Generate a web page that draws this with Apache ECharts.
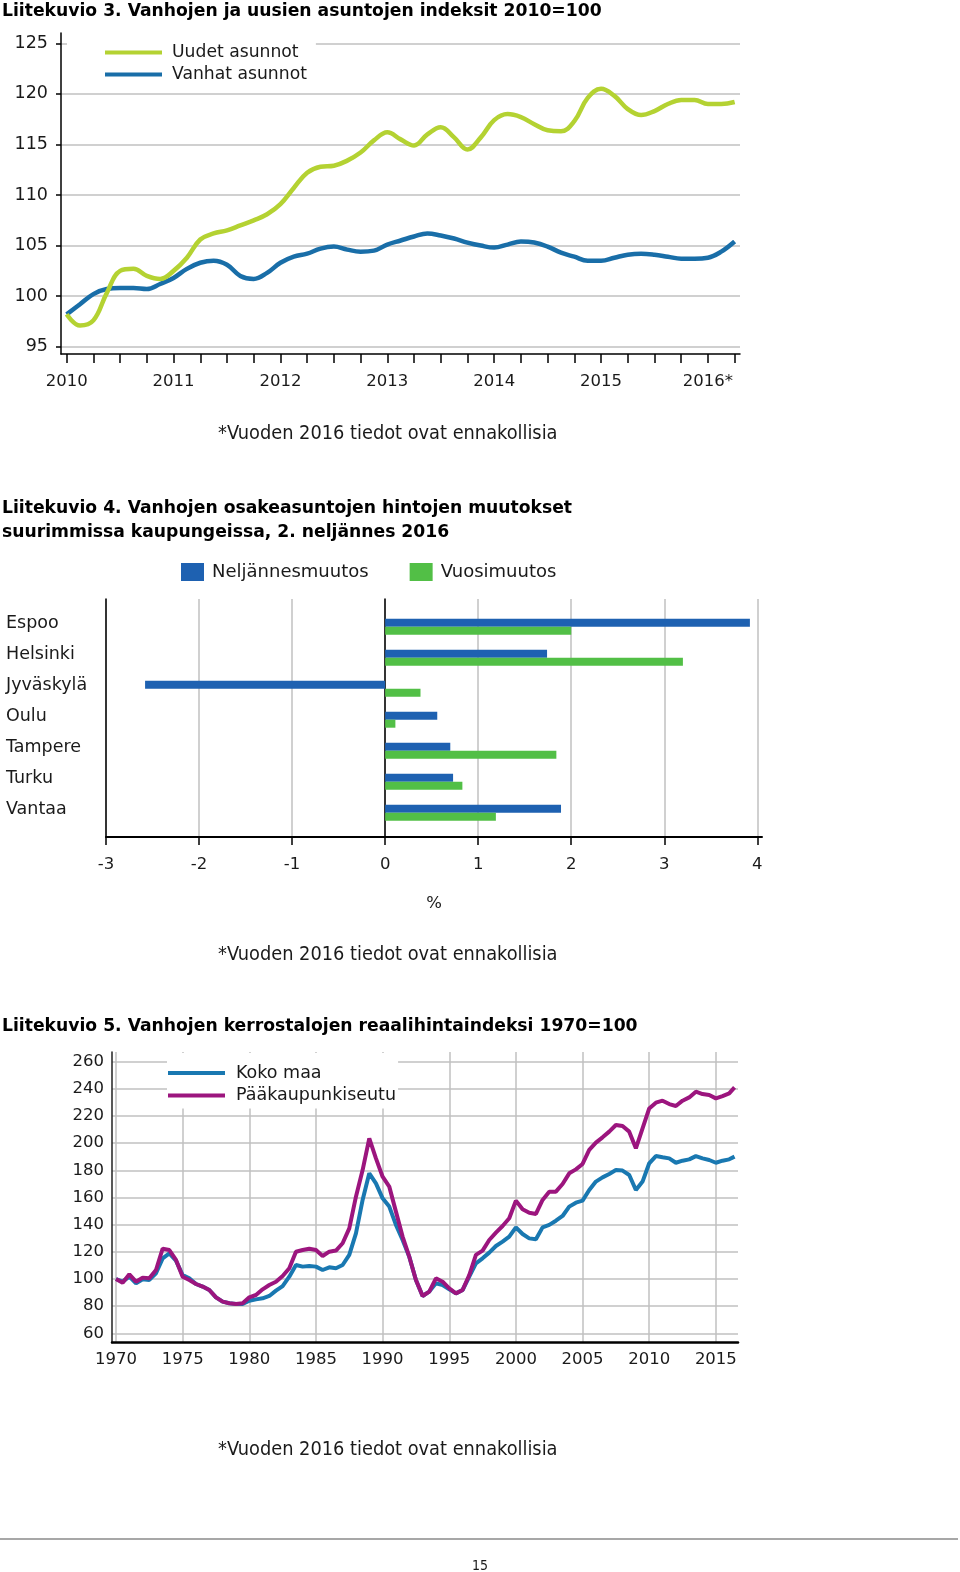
<!DOCTYPE html>
<html><head><meta charset="utf-8">
<script src="https://cdn.jsdelivr.net/npm/echarts@6.0.0/dist/echarts.min.js"></script>
<style>html,body{margin:0;padding:0;background:#fff}#c{width:960px;height:1572px}</style>
</head><body><div id="c"></div>
<script>
// ---------- Liitekuvio 3 ----------
const c1Time = [2010, 2010.125, 2010.25, 2010.375, 2010.5, 2010.625, 2010.75, 2010.875,
  2011, 2011.125, 2011.25, 2011.375, 2011.5, 2011.625, 2011.75, 2011.875,
  2012, 2012.125, 2012.25, 2012.375, 2012.5, 2012.625, 2012.75, 2012.875,
  2013, 2013.125, 2013.25, 2013.375, 2013.5, 2013.625, 2013.75, 2013.875,
  2014, 2014.125, 2014.25, 2014.375, 2014.5, 2014.625, 2014.75, 2014.875,
  2015, 2015.125, 2015.25, 2015.375, 2015.5, 2015.625, 2015.75, 2015.875,
  2016, 2016.125, 2016.25];
const c1Uudet = [98.2, 97.1, 97.6, 100.3, 102.5, 102.7, 102.0, 101.7,
  102.5, 103.8, 105.6, 106.2, 106.5, 107.0, 107.5, 108.1,
  109.1, 110.7, 112.2, 112.8, 112.9, 113.4, 114.2, 115.4,
  116.2, 115.5, 114.9, 116.0, 116.7, 115.7, 114.5, 115.7,
  117.4, 118.0, 117.7, 117.0, 116.4, 116.3, 117.3, 119.6,
  120.5, 119.8, 118.5, 117.9, 118.3, 119.0, 119.4, 119.4,
  119.0, 119.0, 119.2];
const c1Vanhat = [98.2, 99.2, 100.2, 100.7, 100.8, 100.8, 100.7, 101.2,
  101.8, 102.7, 103.3, 103.5, 103.1, 102.0, 101.7, 102.3,
  103.3, 103.9, 104.2, 104.7, 104.9, 104.6, 104.4, 104.5,
  105.1, 105.5, 105.9, 106.2, 106.0, 105.7, 105.3, 105.0,
  104.8, 105.1, 105.4, 105.3, 104.9, 104.3, 103.9, 103.5,
  103.5, 103.8, 104.1, 104.2, 104.1, 103.9, 103.7, 103.7,
  103.8, 104.4, 105.4];
const c1XTicks = [2010, 2010.25, 2010.5, 2010.75, 2011, 2011.25, 2011.5, 2011.75,
  2012, 2012.25, 2012.5, 2012.75, 2013, 2013.25, 2013.5, 2013.75,
  2014, 2014.25, 2014.5, 2014.75, 2015, 2015.25, 2015.5, 2015.75, 2016, 2016.25];
const c1YearLabels = [2010, 2011, 2012, 2013, 2014, 2015, 2016];
const c1YTicks = [95, 100, 105, 110, 115, 120, 125];

// ---------- Liitekuvio 4 ----------
const c2Cities = ['Espoo', 'Helsinki', 'Jyväskylä', 'Oulu', 'Tampere', 'Turku', 'Vantaa'];
const c2Quarter = [3.92, 1.74, -2.58, 0.56, 0.70, 0.73, 1.89];
const c2Annual = [2.00, 3.20, 0.38, 0.11, 1.84, 0.83, 1.19];
const c2XTicks = [-3, -2, -1, 0, 1, 2, 3, 4];

// ---------- Liitekuvio 5 ----------
const c3Years = [1970, 1970.5, 1971, 1971.5, 1972, 1972.5, 1973, 1973.5, 1974, 1974.5,
  1975, 1975.5, 1976, 1976.5, 1977, 1977.5, 1978, 1978.5, 1979, 1979.5,
  1980, 1980.5, 1981, 1981.5, 1982, 1982.5, 1983, 1983.5, 1984, 1984.5,
  1985, 1985.5, 1986, 1986.5, 1987, 1987.5, 1988, 1988.5, 1989, 1989.5,
  1990, 1990.5, 1991, 1991.5, 1992, 1992.5, 1993, 1993.5, 1994, 1994.5,
  1995, 1995.5, 1996, 1996.5, 1997, 1997.5, 1998, 1998.5, 1999, 1999.5,
  2000, 2000.5, 2001, 2001.5, 2002, 2002.5, 2003, 2003.5, 2004, 2004.5,
  2005, 2005.5, 2006, 2006.5, 2007, 2007.5, 2008, 2008.5, 2009, 2009.5,
  2010, 2010.5, 2011, 2011.5, 2012, 2012.5, 2013, 2013.5, 2014, 2014.5,
  2015, 2015.5, 2016, 2016.4];
const c3Koko = [100, 98.0, 101.7, 96.8, 99.8, 99.3, 104.2, 115.2, 118.9, 113.5,
  102.9, 100.5, 96.3, 94.4, 91.9, 86.5, 83.3, 82.1, 81.6, 81.6,
  84.0, 85.0, 85.8, 87.5, 91.4, 94.8, 101.7, 110.3, 109.1, 109.6,
  109.1, 106.6, 108.6, 107.9, 110.3, 117.7, 133.6, 158.2, 177.8, 170.4,
  159.4, 153.3, 139.8, 128.7, 116.4, 99.3, 87.5, 90.7, 96.8, 95.6,
  92.4, 89.4, 91.9, 101.7, 111.5, 115.2, 119.4, 124.3, 127.5, 131.2,
  138.0, 133.1, 129.9, 129.2, 138.0, 139.8, 142.9, 146.4, 153.3, 156.2,
  157.7, 165.5, 171.7, 174.8, 177.3, 180.2, 179.8, 176.6, 165.5, 171.7,
  185.2, 190.5, 189.6, 188.8, 185.6, 187.1, 188.1, 190.5, 188.8, 187.6,
  185.6, 187.1, 188.1, 190.1];
const c3Pks = [100, 97.3, 103.4, 98.0, 101.0, 100.5, 106.6, 122.3, 121.3, 114.0,
  101.7, 99.3, 96.3, 94.4, 91.9, 86.5, 83.3, 82.1, 81.6, 82.1,
  86.5, 88.2, 92.4, 95.6, 98.0, 102.2, 107.9, 120.1, 121.3, 122.3,
  121.3, 116.9, 120.1, 120.9, 126.3, 137.3, 160.6, 180.2, 203.6, 188.8,
  175.3, 168.0, 149.6, 131.2, 116.4, 99.3, 87.5, 90.7, 100.5, 98.0,
  93.1, 89.4, 91.9, 102.9, 117.7, 120.9, 128.7, 134.1, 139.0, 144.7,
  157.7, 151.3, 148.8, 147.9, 158.2, 164.3, 164.3, 169.9, 177.8, 180.7,
  184.7, 195.0, 200.4, 204.3, 208.5, 213.4, 212.6, 208.5, 196.2, 210.9,
  225.6, 229.8, 231.3, 228.8, 227.4, 231.3, 233.7, 237.9, 236.2, 235.5,
  233.0, 234.7, 236.7, 241.1];
const c3XTicks = [1970, 1975, 1980, 1985, 1990, 1995, 2000, 2005, 2010, 2015];
const c3YTicks = [60, 80, 100, 120, 140, 160, 180, 200, 220, 240, 260];

// ---------- styles ----------
const F = 'DejaVu Sans';
const FC = "'DejaVu Sans Condensed', 'DejaVu Sans'";
const TXT = '#1a1a1a';
const GRIDC = '#c0c0c0';
const C1G = '#b4d232', C1B = '#196ea8';
const C2B = '#1e61b1', C2G = '#52bf46';
const C3B = '#1978b1', C3M = '#9c157e';
const titleStyle = {fontFamily: F, fontWeight: 'bold', fontSize: 17.2, color: '#000', lineHeight: 20};
const noteStyle = {fontFamily: FC, fontWeight: 'normal', fontSize: 19.8, color: TXT, lineHeight: 20};
const blackLine = w => ({color: '#000', width: w});
const str = v => String(v);

const chart = echarts.init(document.getElementById('c'), null, {renderer: 'canvas'});
chart.setOption({
  animation: false,
  backgroundColor: '#fff',
  textStyle: {fontFamily: F, color: TXT},
  title: [
    {text: 'Liitekuvio 3. Vanhojen ja uusien asuntojen indeksit 2010=100', left: 2, top: 2, padding: 0, textStyle: titleStyle},
    {text: 'Liitekuvio 4. Vanhojen osakeasuntojen hintojen muutokset\nsuurimmissa kaupungeissa, 2. neljännes 2016', left: 2, top: 497, padding: 0, textStyle: Object.assign({}, titleStyle, {lineHeight: 24})},
    {text: 'Liitekuvio 5. Vanhojen kerrostalojen reaalihintaindeksi 1970=100', left: 2, top: 1017, padding: 0, textStyle: titleStyle},
    {text: '*Vuoden 2016 tiedot ovat ennakollisia', left: 218, top: 424, padding: 0, textStyle: noteStyle},
    {text: '*Vuoden 2016 tiedot ovat ennakollisia', left: 218, top: 945, padding: 0, textStyle: noteStyle},
    {text: '*Vuoden 2016 tiedot ovat ennakollisia', left: 218, top: 1440, padding: 0, textStyle: noteStyle},
    {text: '15', left: 472, top: 1557, padding: 0, textStyle: {fontFamily: FC, fontWeight: 'normal', fontSize: 14, color: TXT, lineHeight: 18}}
  ],
  legend: [
    {data: ['Uudet asunnot', 'Vanhat asunnot'], orient: 'vertical', left: 67, top: 35,
     padding: [9, 9, 3, 38], itemGap: 5, itemWidth: 57, itemHeight: 4, icon: 'rect',
     backgroundColor: '#fff', selectedMode: false, itemStyle: {borderWidth: 0},
     textStyle: {fontFamily: F, fontSize: 17.2, lineHeight: 17, color: TXT, padding: [0, 0, 0, 5]}},
    {data: ['Neljännesmuutos', 'Vuosimuutos'], orient: 'horizontal', left: 181, top: 563,
     padding: 0, itemGap: 41, itemWidth: 23, itemHeight: 18, icon: 'rect', selectedMode: false,
     itemStyle: {borderWidth: 0},
     textStyle: {fontFamily: F, fontSize: 18, color: TXT, padding: [3, 0, 0, 3]}},
    {data: ['Koko maa', 'Pääkaupunkiseutu'], orient: 'vertical', left: 167, top: 1053,
     padding: [11, 2, 4, 1], itemGap: 4.5, itemWidth: 57, itemHeight: 4, icon: 'rect',
     backgroundColor: '#fff', selectedMode: false, itemStyle: {borderWidth: 0},
     textStyle: {fontFamily: F, fontSize: 17.5, lineHeight: 17, color: TXT, padding: [0, 0, 0, 6]}}
  ],
  grid: [
    {left: 61, top: 33, width: 679, height: 321, outerBoundsMode: 'none'},
    {left: 106, top: 599, width: 656, height: 238, outerBoundsMode: 'none'},
    {left: 106, top: 611.2, width: 656, height: 217, outerBoundsMode: 'none'},
    {left: 112, top: 1052, width: 626, height: 290.7, outerBoundsMode: 'none'}
  ],
  xAxis: [
    {gridIndex: 0, type: 'value', min: 2009.947, max: 2016.30,
     axisLine: {show: true, onZero: false, lineStyle: blackLine(1.5)},
     axisTick: {show: true, customValues: c1XTicks, length: 9, lineStyle: blackLine(1.5)},
     axisLabel: {customValues: c1YearLabels, margin: 19, fontSize: 16.5, color: TXT, fontFamily: F,
       formatter: v => Math.round(v) === 2016 ? '2016*' : String(Math.round(v))},
     splitLine: {show: false}},
    {gridIndex: 1, type: 'value', min: -3, max: 4.05,
     axisLine: {show: true, onZero: false, lineStyle: blackLine(2)},
     axisTick: {show: true, customValues: c2XTicks, length: 8, lineStyle: blackLine(1.5)},
     axisLabel: {customValues: c2XTicks, margin: 19, fontSize: 16.5, color: TXT, fontFamily: F, formatter: str},
     splitLine: {show: true, lineStyle: {color: GRIDC, width: 1.5}},
     name: '%', nameLocation: 'middle', nameGap: 58,
     nameTextStyle: {fontSize: 16.5, color: TXT, fontFamily: F}},
    {gridIndex: 2, type: 'value', min: -3, max: 4.05, show: false},
    {gridIndex: 3, type: 'value', min: 1969.7, max: 2016.66,
     axisLine: {show: true, onZero: false, lineStyle: blackLine(2.5)},
     axisTick: {show: false, customValues: c3XTicks},
     axisLabel: {customValues: c3XTicks, margin: 9, fontSize: 16.5, color: TXT, fontFamily: F, formatter: str},
     splitLine: {show: true, lineStyle: {color: GRIDC, width: 1.5}}}
  ],
  yAxis: [
    {gridIndex: 0, type: 'value', min: 94.28, max: 126.02,
     axisLine: {show: true, onZero: false, lineStyle: blackLine(1.5)},
     axisTick: {show: true, customValues: c1YTicks, length: 5, lineStyle: blackLine(1.5)},
     axisLabel: {customValues: c1YTicks, margin: 13, fontSize: 17.5, color: TXT, fontFamily: F, formatter: str},
     splitLine: {show: true, lineStyle: {color: GRIDC, width: 1.5}}},
    {gridIndex: 1, type: 'value', min: 0, max: 1, position: 'right',
     axisLine: {show: true, onZero: true, lineStyle: blackLine(1.5)},
     axisTick: {show: false}, axisLabel: {show: false}, splitLine: {show: false}},
    {gridIndex: 1, type: 'value', min: 0, max: 1, position: 'left',
     axisLine: {show: true, onZero: false, lineStyle: blackLine(1.5)},
     axisTick: {show: false}, axisLabel: {show: false}, splitLine: {show: false}},
    {gridIndex: 2, type: 'category', data: c2Cities, inverse: true,
     axisLine: {show: false, onZero: false}, axisTick: {show: false}, splitLine: {show: false},
     axisLabel: {align: 'left', verticalAlign: 'bottom', lineHeight: 6, margin: 100, fontSize: 17.5, color: TXT, fontFamily: F}},
    {gridIndex: 3, type: 'value', min: 53.08, max: 267.14,
     axisLine: {show: true, onZero: false, lineStyle: {color: '#222', width: 1.5}},
     axisTick: {show: false, customValues: c3YTicks},
     axisLabel: {customValues: c3YTicks, margin: 8, fontSize: 16.5, color: TXT, fontFamily: F, formatter: str},
     splitLine: {show: true, lineStyle: {color: GRIDC, width: 1.5}}}
  ],
  series: [
    {name: 'Vanhat asunnot', type: 'line', xAxisIndex: 0, yAxisIndex: 0,
     data: c1Time.map((t, i) => [t, c1Vanhat[i]]), smooth: 0.4, symbol: 'none',
     lineStyle: {width: 4.5, color: C1B}, itemStyle: {color: C1B}},
    {name: 'Uudet asunnot', type: 'line', xAxisIndex: 0, yAxisIndex: 0,
     data: c1Time.map((t, i) => [t, c1Uudet[i]]), smooth: 0.4, symbol: 'none',
     lineStyle: {width: 4.5, color: C1G}, itemStyle: {color: C1G}},
    {name: 'Neljännesmuutos', type: 'bar', xAxisIndex: 2, yAxisIndex: 3,
     data: c2Quarter, barWidth: 8, barGap: '0%', itemStyle: {color: C2B}},
    {name: 'Vuosimuutos', type: 'bar', xAxisIndex: 2, yAxisIndex: 3,
     data: c2Annual, barWidth: 8, barGap: '0%', itemStyle: {color: C2G}},
    {name: 'Koko maa', type: 'line', xAxisIndex: 3, yAxisIndex: 4,
     data: c3Years.map((t, i) => [t, c3Koko[i]]), symbol: 'none',
     lineStyle: {width: 4, color: C3B}, itemStyle: {color: C3B}},
    {name: 'Pääkaupunkiseutu', type: 'line', xAxisIndex: 3, yAxisIndex: 4,
     data: c3Years.map((t, i) => [t, c3Pks[i]]), symbol: 'none',
     lineStyle: {width: 4, color: C3M}, itemStyle: {color: C3M}}
  ],
  graphic: [
    {type: 'line', shape: {x1: 0, y1: 1539, x2: 958, y2: 1539}, style: {stroke: '#8a8a8a', lineWidth: 1.5}, silent: true}
  ]
});
</script>
</body></html>
